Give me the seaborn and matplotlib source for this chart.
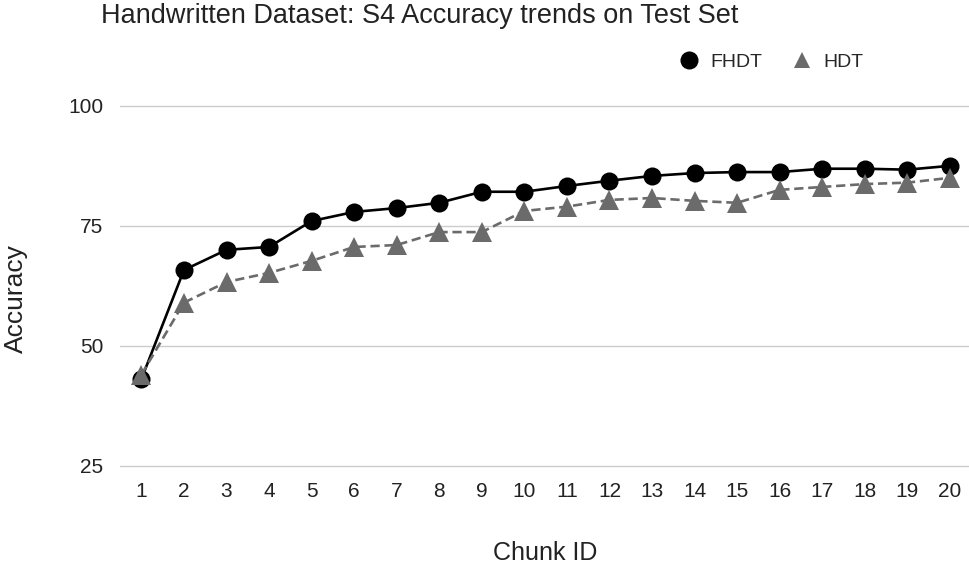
import pandas as pd
import matplotlib
matplotlib.use('Agg')
import matplotlib.pyplot as plt
import seaborn as sns
from matplotlib.lines import Line2D

# Valores
chunk_id = list(range(1, 21))
fhdt = [43.1, 65.8, 70.0, 70.6, 76.0, 77.9, 78.7, 79.8, 82.1, 82.1,
        83.3, 84.4, 85.4, 86.0, 86.2, 86.2, 86.9, 86.9, 86.7, 87.5]
hdt = [44.0, 59.0, 63.3, 65.2, 67.7, 70.6, 71.0, 73.7, 73.7, 78.1,
       79.0, 80.4, 80.8, 80.2, 79.8, 82.5, 83.1, 83.7, 84.0, 85.0]
y_ticks = [25, 50, 75, 100]

df = pd.DataFrame({
    'chunk': chunk_id * 2,
    'acc': fhdt + hdt,
    'modelo': ['FHDT'] * len(fhdt) + ['HDT'] * len(hdt),
})

sns.set_style('white')
plt.rcParams['font.family'] = ['Liberation Sans', 'DejaVu Sans']

fig = plt.figure(figsize=(9.69, 5.66), dpi=100)
ax = fig.add_axes([0.124, 0.177, 0.876, 0.636])

sns.lineplot(data=df, x='chunk', y='acc', hue='modelo', style='modelo',
             palette={'FHDT': '#000000', 'HDT': '#6b6b6b'},
             markers={'FHDT': 'o', 'HDT': '^'},
             dashes={'FHDT': '', 'HDT': (3.5, 1.8)},
             markersize=13, markeredgewidth=0, linewidth=1.9,
             ax=ax, legend=False, zorder=3)
# HDT encima de FHDT, como en el original
for line in ax.lines:
    if line.get_marker() == '^':
        line.set_zorder(4)
        line.set_markersize(14.5)
    line.set_clip_on(False)

ax.set_xlim(0.5, 20.45)
ax.set_ylim(25, 100)
ax.set_xticks(chunk_id)
ax.set_yticks(y_ticks)
ax.tick_params(axis='both', length=0, labelsize=15, colors='#222222')
ax.tick_params(axis='x', pad=12)
ax.tick_params(axis='y', pad=12)
ax.grid(axis='y', color='#cccccc', linewidth=1)
ax.grid(axis='x', visible=False)
for gl in ax.get_ygridlines():
    gl.set_clip_on(False)
for s in ax.spines.values():
    s.set_visible(False)

ax.set_xlabel('')
ax.set_ylabel('')
fig.text(0.5625, 0.023, 'Chunk ID', ha='center', va='center', fontsize=18, color='#222222')
fig.text(0.016, 0.473, 'Accuracy', ha='center', va='center', rotation=90,
         fontsize=19, color='#222222')

fig.text(0.4335, 0.995, 'Handwritten Dataset: S4 Accuracy trends on Test Set',
         ha='center', va='top', fontsize=19.5, color='#222222')

handles = [Line2D([], [], marker='o', color='#000000', linestyle='none', markersize=13, markeredgewidth=0),
           Line2D([], [], marker='^', color='#6b6b6b', linestyle='none', markersize=12, markeredgewidth=0)]
fig.legend(handles, ['FHDT', 'HDT'], loc='center', bbox_to_anchor=(0.795, 0.89),
           ncol=2, frameon=False, fontsize=14, handletextpad=0.5, columnspacing=1.4,
           handlelength=1.2)

fig.savefig('out.png', dpi=100)
